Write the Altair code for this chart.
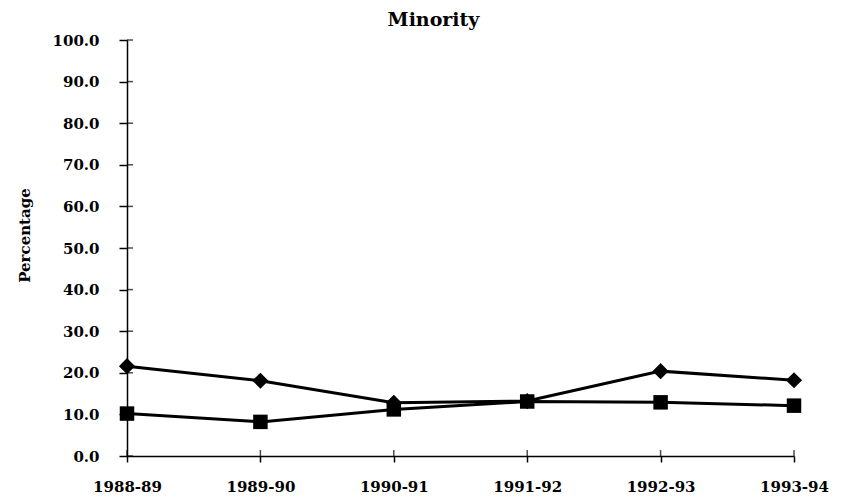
import altair as alt
import pandas as pd

years = ["1988-89", "1989-90", "1990-91", "1991-92", "1992-93", "1993-94"]
diamond_vals = [21.6, 18.1, 12.8, 13.2, 20.4, 18.2]
square_vals = [10.2, 8.2, 11.2, 13.1, 12.9, 12.1]
y_ticks = [0, 10, 20, 30, 40, 50, 60, 70, 80, 90, 100]

df = pd.DataFrame({
    "year": years * 2,
    "value": diamond_vals + square_vals,
    "series": ["A"] * len(years) + ["B"] * len(years),
})
yticks_df = pd.DataFrame({"value": y_ticks})
xticks_df = pd.DataFrame({"year": years})

FONT = "DejaVu Serif"
H = 416

xenc = alt.X("year:N", sort=years, scale=alt.Scale(type="point", padding=0),
             axis=alt.Axis(title=None, labelAngle=0, labelFontSize=15, labelFontWeight="bold",
                           labelFont=FONT, labelColor="black", domainColor="black",
                           domainWidth=1.5, tickColor="black", tickSize=6, tickWidth=1.5,
                           labelPadding=17, grid=False))
yenc = alt.Y("value:Q", scale=alt.Scale(domain=[0, 100], nice=False),
             axis=alt.Axis(title="Percentage", values=y_ticks, format=".1f",
                           labelFontSize=15, labelFontWeight="bold", labelFont=FONT,
                           labelColor="black", titleFont=FONT, titleFontSize=15,
                           titleFontWeight="bold", titleColor="black", titlePadding=20,
                           titleY=195, titleAngle=270,
                           domainColor="black", domainWidth=1.5, tickColor="black",
                           tickSize=8, tickWidth=1.5, labelPadding=20, grid=False))

y_inner = alt.Chart(yticks_df).mark_tick(
    orient="horizontal", color="black", size=6, thickness=1.5
).encode(y=yenc, x=alt.value(3))

x_inner = alt.Chart(xticks_df).mark_tick(
    orient="vertical", color="black", size=6, thickness=1.5
).encode(x=xenc, y=alt.value(H - 3))

lines = alt.Chart(df).mark_line(color="black", strokeWidth=3).encode(
    x=xenc, y=yenc, detail="series:N")

diamonds = alt.Chart(df[df.series == "A"]).mark_point(
    shape="diamond", filled=True, color="black", size=260, opacity=1
).encode(x=xenc, y=yenc)

squares = alt.Chart(df[df.series == "B"]).mark_point(
    shape="square", filled=True, color="black", size=210, opacity=1
).encode(x=xenc, y=yenc)

chart = alt.layer(y_inner, x_inner, lines, diamonds, squares).properties(
    width=667, height=H,
    background="white",
    title=alt.TitleParams("Minority", font=FONT, fontSize=19, fontWeight="bold",
                          color="black", anchor="middle", dx=-27, offset=0, dy=-3),
    padding={"left": 119, "top": 32, "right": 40, "bottom": 43},
    autosize=alt.AutoSizeParams(type="none"),
).configure_view(strokeWidth=0, stroke=None)

chart.save("out.html", embed_options={"renderer": "svg", "actions": False})
